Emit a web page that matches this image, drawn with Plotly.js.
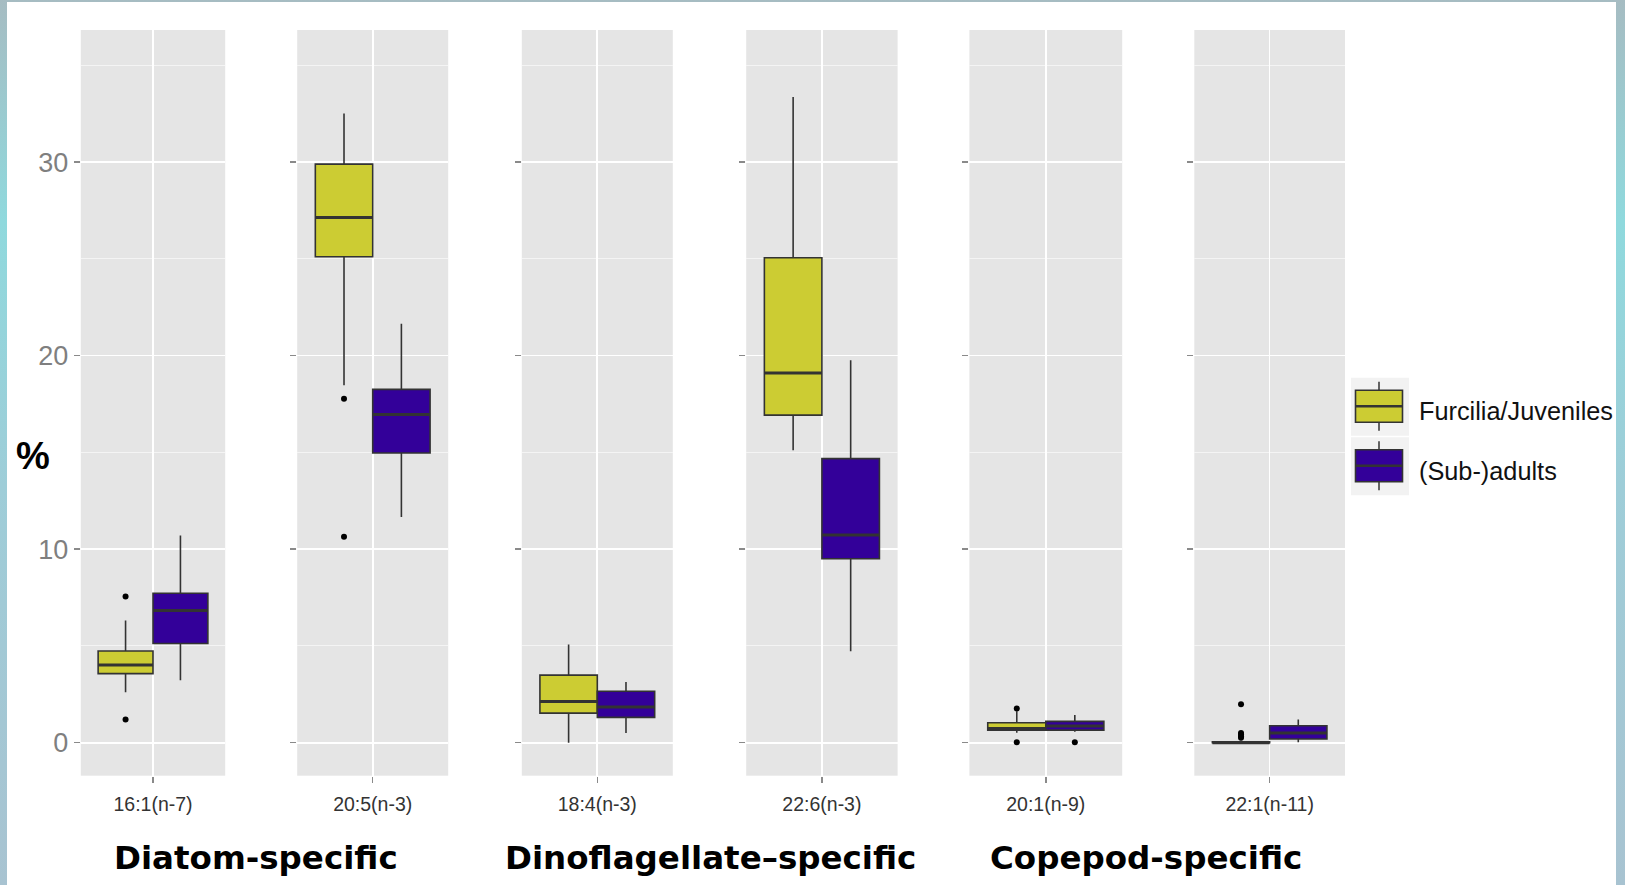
<!DOCTYPE html>
<html><head><meta charset="utf-8">
<script src="https://cdn.plot.ly/plotly-3.0.1.min.js"></script>
<style>
html,body{margin:0;padding:0;}
body{width:1625px;height:885px;overflow:hidden;position:relative;
 background:linear-gradient(180deg,#a6bcc2 0%,#8fd9dd 25%,#9ecdd8 55%,#a8c3d1 100%);}
#sheet{position:absolute;left:7px;top:2px;width:1609px;height:883px;background:#ffffff;}
#chart{position:absolute;left:0;top:0;width:1625px;height:885px;}
</style></head><body>
<div id="sheet"></div><div id="chart"></div>
<script>
// ---------- data ----------
const categories = ['16:1(n-7)', '20:5(n-3)', '18:4(n-3)', '22:6(n-3)', '20:1(n-9)', '22:1(n-11)'];
const groupLabels = ['Diatom-specific', 'Dinoflagellate\u2013specific', 'Copepod-specific'];
const seriesNames = ['Furcilia/Juveniles', '(Sub-)adults'];
const yTitle = '%';

const juvLower   = [2.61, 18.47, 0.00, 15.11, 0.52, 0.00];
const juvQ1      = [3.57, 25.11, 1.53, 16.93, 0.65, 0.00];
const juvMedian  = [4.02, 27.14, 2.13, 19.10, 0.74, 0.00];
const juvQ3      = [4.74, 29.90, 3.49, 25.06, 1.03, 0.05];
const juvUpper   = [6.32, 32.51, 5.08, 33.37, 1.62, 0.10];
const juvOutliers = [[7.55, 1.20], [17.77, 10.64], [], [], [1.77, 0.02], [1.99, 0.50, 0.42, 0.34, 0.26]];

const adLower    = [3.23, 11.67, 0.50, 4.72, 0.57, 0.02];
const adQ1       = [5.13, 14.97, 1.31, 9.51, 0.65, 0.19];
const adMedian   = [6.83, 16.96, 1.84, 10.73, 0.86, 0.50];
const adQ3       = [7.72, 18.26, 2.66, 14.68, 1.10, 0.88];
const adUpper    = [10.71, 21.65, 3.14, 19.77, 1.43, 1.20];
const adOutliers = [[], [], [], [], [0.02], []];

const yTickVals = [0, 10, 20, 30];

// ---------- layout helpers ----------
const W = 1625, H = 885;
const px = x => x / W, py = y => 1 - y / H;
const panelPx = [[80.8, 225.2], [297.2, 448.2], [521.8, 672.8], [746.2, 897.6], [969.4, 1122.2], [1194.3, 1345.0]];
const yDomain = [py(775.7), py(30)];
const yRange = [-1.705, 36.83];
const boxW = 0.38, offs = 0.19;
const lineCol = '#333333';

const series = [
  {name: seriesNames[0], lower: juvLower, q1: juvQ1, med: juvMedian, q3: juvQ3, upper: juvUpper, out: juvOutliers, color: '#CCCC33', pos: -offs},
  {name: seriesNames[1], lower: adLower, q1: adQ1, med: adMedian, q3: adQ3, upper: adUpper, out: adOutliers, color: '#330099', pos: offs}
];

const traces = [];
const layout = {
  width: W, height: H,
  margin: {l: 0, r: 0, t: 0, b: 0},
  paper_bgcolor: 'rgba(0,0,0,0)',
  plot_bgcolor: '#E5E5E5',
  showlegend: false,
  font: {family: 'Liberation Sans, Arial, sans-serif'},
  shapes: [], annotations: []
};

categories.forEach((cat, i) => {
  const sfx = i === 0 ? '' : String(i + 1);
  const xa = 'x' + sfx, ya = 'y' + sfx;
  layout['xaxis' + sfx] = {
    domain: [px(panelPx[i][0]), px(panelPx[i][1])], anchor: ya, type: 'linear',
    range: [-0.5, 0.5], tickvals: [0], ticktext: [cat],
    showgrid: true, gridcolor: '#FFFFFF', gridwidth: 1.6, zeroline: false, showline: false,
    ticks: 'outside', ticklen: 6, tickwidth: 1.4, tickcolor: '#8a8a8a', ticklabelstandoff: 5,
    tickfont: {size: 19.5, color: '#333333', family: 'Liberation Sans, Arial, sans-serif'},
    fixedrange: true
  };
  layout['yaxis' + sfx] = {
    domain: yDomain, anchor: xa, type: 'linear', range: yRange,
    tickvals: yTickVals, showticklabels: i === 0,
    showgrid: true, gridcolor: '#FFFFFF', gridwidth: 1.6, zeroline: false, showline: false,
    minor: {dtick: 5, tick0: 0, showgrid: true, gridcolor: '#F4F4F4', gridwidth: 1, ticks: ''},
    ticks: 'outside', ticklen: 6, tickwidth: 1.4, tickcolor: '#8a8a8a',
    tickfont: {size: 27, color: '#7f7f7f', family: 'Liberation Sans, Arial, sans-serif'},
    fixedrange: true
  };
  series.forEach(s => {
    traces.push({
      type: 'box', xaxis: xa, yaxis: ya, name: s.name, x: [s.pos],
      q1: [s.q1[i]], median: [s.med[i]], q3: [s.q3[i]],
      lowerfence: [s.lower[i]], upperfence: [s.upper[i]],
      width: boxW, whiskerwidth: 0, boxpoints: false,
      fillcolor: s.color, line: {color: lineCol, width: 1.6}, showlegend: false
    });
    traces.push({
      type: 'scatter', mode: 'lines', xaxis: xa, yaxis: ya, name: s.name,
      x: [s.pos - boxW / 2, s.pos + boxW / 2], y: [s.med[i], s.med[i]],
      line: {color: lineCol, width: 3}, hoverinfo: 'skip', showlegend: false
    });
    if (s.out[i].length) {
      traces.push({
        type: 'scatter', mode: 'markers', xaxis: xa, yaxis: ya, name: s.name,
        x: s.out[i].map(() => s.pos), y: s.out[i],
        marker: {color: '#000000', size: 6}, showlegend: false, cliponaxis: false
      });
    }
  });
});

// y-axis title "%"
layout.annotations.push({xref: 'paper', yref: 'paper', x: px(32.7), y: py(456), text: '<b>' + yTitle + '</b>',
  showarrow: false, xanchor: 'center', yanchor: 'middle', font: {size: 38, color: '#000', family: 'Liberation Sans, Arial, sans-serif'}});

// group labels
const groupCenters = [256, 710.5, 1145.7];
groupLabels.forEach((g, k) => {
  layout.annotations.push({xref: 'paper', yref: 'paper', x: px(groupCenters[k]), y: py(858), text: '<b>' + g + '</b>',
    showarrow: false, xanchor: 'center', yanchor: 'middle', font: {size: 32.5, color: '#000', family: 'DejaVu Sans, Verdana, sans-serif'}});
});

// custom legend (ggplot style keys)
const keyTop = [377.7, 437.3];
series.forEach((s, k) => {
  const t = keyTop[k];
  layout.shapes.push({type: 'rect', xref: 'paper', yref: 'paper', x0: px(1351), x1: px(1409), y0: py(t), y1: py(t + 58), fillcolor: '#F2F2F2', line: {width: 0}});
  layout.shapes.push({type: 'line', xref: 'paper', yref: 'paper', x0: px(1379), x1: px(1379), y0: py(t + 4), y1: py(t + 53), line: {color: lineCol, width: 1.5}});
  layout.shapes.push({type: 'rect', xref: 'paper', yref: 'paper', x0: px(1355.5), x1: px(1402.5), y0: py(t + 12.5), y1: py(t + 44.5), fillcolor: s.color, line: {color: lineCol, width: 1.6}});
  layout.shapes.push({type: 'line', xref: 'paper', yref: 'paper', x0: px(1355.5), x1: px(1402.5), y0: py(t + 28.5), y1: py(t + 28.5), line: {color: lineCol, width: 2.6}});
  layout.annotations.push({xref: 'paper', yref: 'paper', x: px(1417), y: py(t + 33.5), text: s.name, showarrow: false,
    xanchor: 'left', yanchor: 'middle', font: {size: 25.3, color: '#111', family: 'Liberation Sans, Arial, sans-serif'}});
});

Plotly.newPlot('chart', traces, layout, {displayModeBar: false, staticPlot: true});
</script>
</body></html>
